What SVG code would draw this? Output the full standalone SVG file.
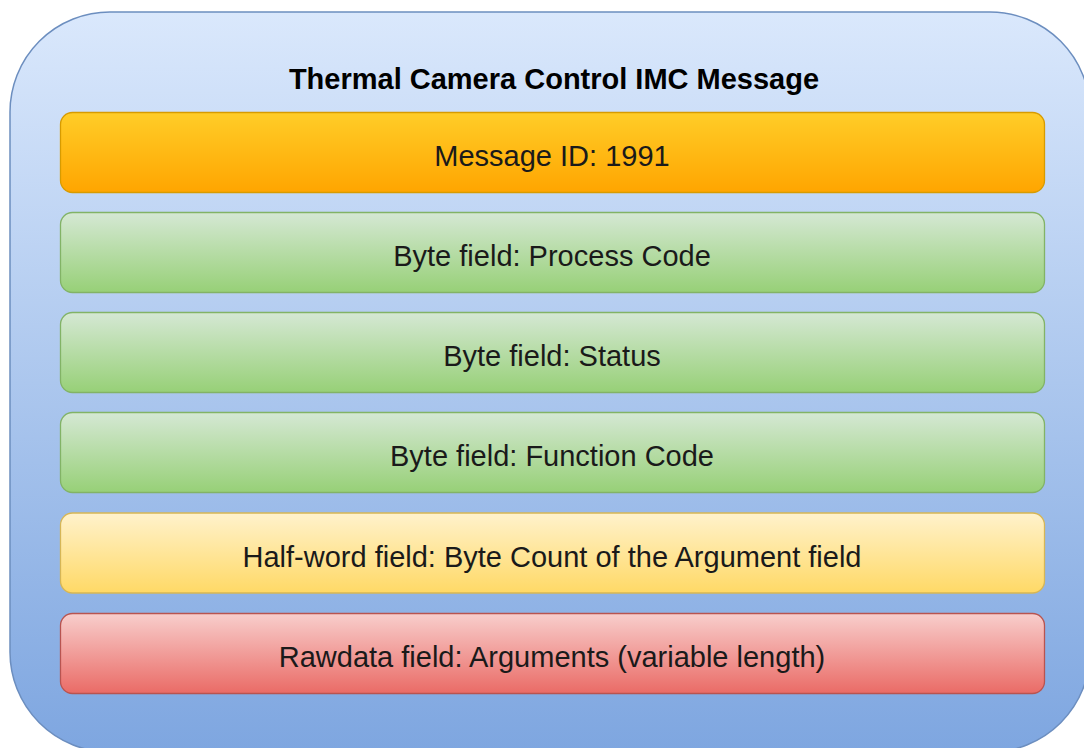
<svg xmlns="http://www.w3.org/2000/svg" width="1084" height="748" viewBox="0 0 1084 748">
  <defs>
    <linearGradient id="gBlue" x1="0" y1="0" x2="0" y2="1">
      <stop offset="0" stop-color="#dae8fc"/>
      <stop offset="1" stop-color="#7ea6e0"/>
    </linearGradient>
    <linearGradient id="gOrange" x1="0" y1="0" x2="0" y2="1">
      <stop offset="0" stop-color="#ffcd28"/>
      <stop offset="1" stop-color="#ffa500"/>
    </linearGradient>
    <linearGradient id="gGreen" x1="0" y1="0" x2="0" y2="1">
      <stop offset="0" stop-color="#d5e8d4"/>
      <stop offset="1" stop-color="#97d077"/>
    </linearGradient>
    <linearGradient id="gYellow" x1="0" y1="0" x2="0" y2="1">
      <stop offset="0" stop-color="#fff2cc"/>
      <stop offset="1" stop-color="#ffd966"/>
    </linearGradient>
    <linearGradient id="gRed" x1="0" y1="0" x2="0" y2="1">
      <stop offset="0" stop-color="#f8cecc"/>
      <stop offset="1" stop-color="#ea6b66"/>
    </linearGradient>
  </defs>
  <style>
    .lbl { font-family: "Liberation Sans", Arial, Helvetica, sans-serif; font-size: 29px; fill: #1a1a1a; text-anchor: middle; }
    .title { font-family: "Liberation Sans", Arial, Helvetica, sans-serif; font-size: 29px; font-weight: bold; fill: #000; text-anchor: middle; }
    .box { stroke-width: 1.3; }
  </style>
  <g id="container">
    <rect x="10" y="12" width="1080" height="740" rx="100" ry="100" fill="url(#gBlue)" stroke="#6c8ebf" stroke-width="1.5"/>
    <text class="title" x="554" y="89">Thermal Camera Control IMC Message</text>
  </g>
  <g id="message-id">
    <rect class="box" x="60.5" y="112.5" width="984" height="80" rx="12" fill="url(#gOrange)" stroke="#d79b00"/>
    <text class="lbl" x="552" y="166">Message ID: 1991</text>
  </g>
  <g id="process-code">
    <rect class="box" x="60.5" y="212.5" width="984" height="80" rx="12" fill="url(#gGreen)" stroke="#82b366"/>
    <text class="lbl" x="552" y="266">Byte field: Process Code</text>
  </g>
  <g id="status">
    <rect class="box" x="60.5" y="312.5" width="984" height="80" rx="12" fill="url(#gGreen)" stroke="#82b366"/>
    <text class="lbl" x="552" y="366">Byte field: Status</text>
  </g>
  <g id="function-code">
    <rect class="box" x="60.5" y="412.5" width="984" height="80" rx="12" fill="url(#gGreen)" stroke="#82b366"/>
    <text class="lbl" x="552" y="466">Byte field: Function Code</text>
  </g>
  <g id="byte-count">
    <rect class="box" x="60.5" y="513" width="984" height="80" rx="12" fill="url(#gYellow)" stroke="#d6b656"/>
    <text class="lbl" x="552" y="567">Half-word field: Byte Count of the Argument field</text>
  </g>
  <g id="arguments">
    <rect class="box" x="60.5" y="613.5" width="984" height="80" rx="12" fill="url(#gRed)" stroke="#b85450"/>
    <text class="lbl" x="552" y="667">Rawdata field: Arguments (variable length)</text>
  </g>
  <g id="connectors"/>
</svg>
